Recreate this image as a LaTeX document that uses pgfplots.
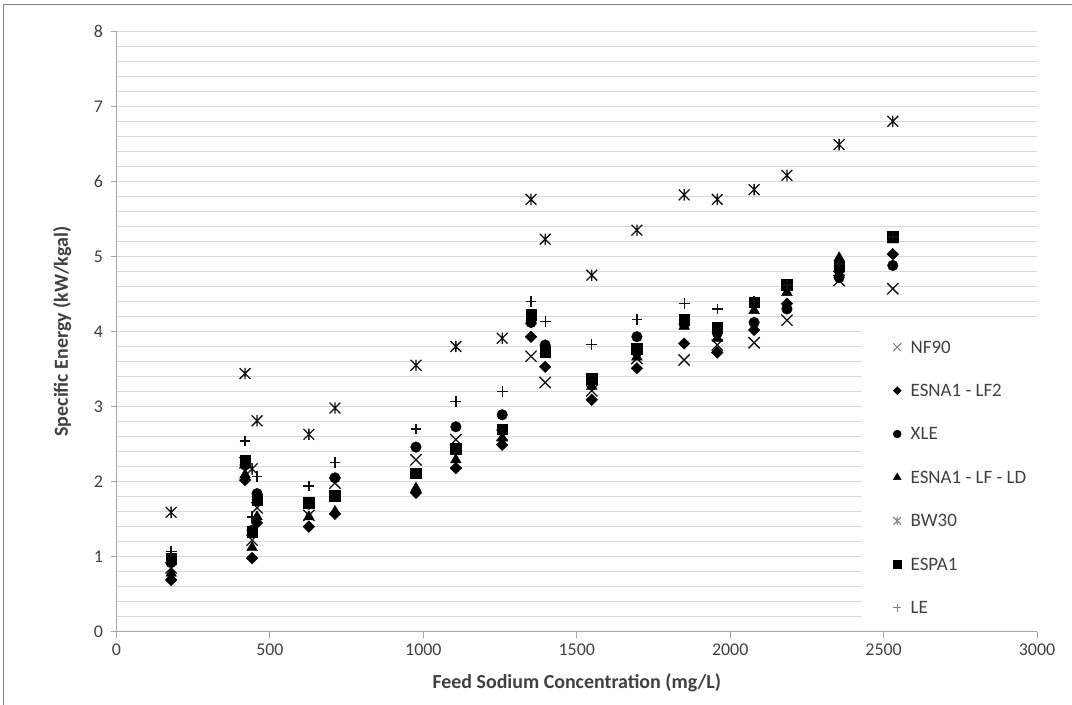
\documentclass[border=0pt]{standalone}
\usepackage{fontspec}
\setmainfont{Carlito}
\usepackage{pgfplots}
\usepackage{pgfplotstable}
\pgfplotsset{compat=1.18}

\definecolor{gridgray}{HTML}{D9D9D9}
\definecolor{axisgray}{HTML}{A6A6A6}
\definecolor{txt}{HTML}{404040}
\definecolor{mk}{HTML}{111111}

\pgfdeclareplotmark{xstar}{%
  \pgfpathmoveto{\pgfqpoint{-\pgfplotmarksize}{-\pgfplotmarksize}}%
  \pgfpathlineto{\pgfqpoint{\pgfplotmarksize}{\pgfplotmarksize}}%
  \pgfpathmoveto{\pgfqpoint{-\pgfplotmarksize}{\pgfplotmarksize}}%
  \pgfpathlineto{\pgfqpoint{\pgfplotmarksize}{-\pgfplotmarksize}}%
  \pgfpathmoveto{\pgfqpoint{0pt}{-1.05\pgfplotmarksize}}%
  \pgfpathlineto{\pgfqpoint{0pt}{1.05\pgfplotmarksize}}%
  \pgfusepathqstroke}
\pgfdeclareplotmark{xcross}{%
  \pgfpathmoveto{\pgfqpoint{-\pgfplotmarksize}{-\pgfplotmarksize}}%
  \pgfpathlineto{\pgfqpoint{\pgfplotmarksize}{\pgfplotmarksize}}%
  \pgfpathmoveto{\pgfqpoint{-\pgfplotmarksize}{\pgfplotmarksize}}%
  \pgfpathlineto{\pgfqpoint{\pgfplotmarksize}{-\pgfplotmarksize}}%
  \pgfusepathqstroke}
\pgfdeclareplotmark{dia}{%
  \pgfpathmoveto{\pgfqpoint{0pt}{\pgfplotmarksize}}%
  \pgfpathlineto{\pgfqpoint{\pgfplotmarksize}{0pt}}%
  \pgfpathlineto{\pgfqpoint{0pt}{-\pgfplotmarksize}}%
  \pgfpathlineto{\pgfqpoint{-\pgfplotmarksize}{0pt}}%
  \pgfpathclose
  \pgfusepathqfillstroke}

\pgfplotstableread{
x    nf   lftwo xle  lfld bw   espa le
178  0.85 0.69  0.92 0.78 1.59 0.97 1.07
419  2.25 2.02  2.22 2.09 3.44 2.28 2.54
442  1.22 0.98  1.35 1.12 2.17 1.33 1.53
458  1.65 1.45  1.84 1.53 2.81 1.76 2.07
627  1.55 1.40  1.70 1.53 2.63 1.72 1.94
712  1.98 1.57  2.05 1.60 2.98 1.81 2.25
976  2.29 1.85  2.46 1.91 3.55 2.11 2.70
1106 2.56 2.18  2.73 2.29 3.80 2.44 3.07
1257 2.62 2.49  2.89 2.58 3.91 2.70 3.20
1351 3.67 3.93  4.12 4.14 5.76 4.22 4.40
1397 3.32 3.53  3.82 3.75 5.23 3.73 4.13
1549 3.21 3.09  3.35 3.27 4.75 3.37 3.83
1696 3.64 3.51  3.93 3.66 5.35 3.77 4.16
1850 3.62 3.84  4.10 4.07 5.82 4.16 4.37
1958 3.82 3.72  3.98 3.91 5.76 4.05 4.30
2078 3.85 4.02  4.12 4.28 5.89 4.39 4.40
2185 4.15 4.37  4.30 4.52 6.08 4.62 4.62
2355 4.68 4.80  4.72 4.98 6.49 4.87 4.90
2530 4.57 5.03  4.88 5.22 6.80 5.26 5.26
}\datatable

\begin{document}
\begin{tikzpicture}[x=1bp,y=1bp]
\useasboundingbox (0,0) rectangle (1072,705);
\draw[color=gray, line width=1bp] (3,0) -- (3,700) -- (1072,700);
\begin{axis}[
  at={(116.5bp,73.3bp)}, anchor=south west,
  scale only axis, width=920.5bp, height=600.4bp,
  xmin=0, xmax=3000, ymin=0, ymax=8,
  xtick={0,500,...,3000}, ytick={0,1,...,8},
  minor y tick num=4,
  axis lines*=left,
  axis line style={draw=axisgray, line width=1bp},
  tick style={draw=axisgray, line width=1bp},
  tick align=outside,
  major tick length=6bp, minor tick length=0bp,
  ymajorgrids, yminorgrids,
  major grid style={draw=gridgray, line width=1.2bp},
  minor grid style={draw=gridgray, line width=1.2bp},
  tick label style={font=\fontsize{18}{20}\selectfont, text=txt},
  /pgf/number format/assume math mode=true,
  /pgf/number format/1000 sep={},
  yticklabel style={xshift=-4bp},
  xticklabel style={yshift=-3bp},
  xlabel={\textbf{Feed Sodium Concentration (mg/L)}},
  ylabel={\textbf{Specific Energy (kW/kgal)}},
  label style={font=\fontsize{20}{22}\selectfont, text=txt},
  x label style={at={(axis description cs:0.5,-0.085)}, anchor=center},
  y label style={at={(axis description cs:-0.059,0.5)}, anchor=center},
  legend style={
    at={(axis description cs:0.8099,0.5028)}, anchor=north west,
    draw=none, fill=white, inner xsep=30.5bp, inner ysep=11bp,
    font=\fontsize{19}{21}\selectfont, text=txt,
    row sep=27.4bp,
    nodes={inner sep=0pt, text height=12bp, text depth=4bp, anchor=base west},
  },
  legend cell align=left,
  /tikz/every odd column/.append style={column sep=9bp},
  legend image code/.code={%
    \path[draw=none, fill=none] (-4.5bp,0bp) rectangle (4.5bp,10bp);
    \draw[#1] plot coordinates {(0bp,5.8bp)};},
]
\addplot[only marks, mark=xcross, mark size=5.6bp, draw=mk, line width=1.3bp,
  legend image post style={mark size=4bp, draw=gray, line width=1bp}]
  table[x=x, y=nf] {\datatable};
\addlegendentry{NF90}
\addplot[only marks, mark=dia, mark size=5.8bp, draw=black, fill=black, line width=0.4bp,
  legend image post style={mark size=4bp}]
  table[x=x, y=lftwo] {\datatable};
\addlegendentry{ESNA1 - LF2}
\addplot[only marks, mark=*, mark size=5.3bp, draw=black, fill=black, line width=0.4bp,
  legend image post style={mark size=4bp}]
  table[x=x, y=xle] {\datatable};
\addlegendentry{XLE}
\addplot[only marks, mark=triangle*, mark size=6.2bp, draw=black, fill=black, line width=0.4bp,
  legend image post style={mark size=4.5bp}]
  table[x=x, y=lfld] {\datatable};
\addlegendentry{ESNA1 - LF - LD}
\addplot[only marks, mark=xstar, mark size=5.4bp, draw=mk, line width=1.3bp,
  legend image post style={mark size=3.8bp, draw=gray, line width=1bp}]
  table[x=x, y=bw] {\datatable};
\addlegendentry{BW30}
\addplot[only marks, mark=square*, mark size=5.3bp, draw=black, fill=black, line width=0.4bp,
  legend image post style={mark size=3.7bp}]
  table[x=x, y=espa] {\datatable};
\addlegendentry{ESPA1}
\addplot[only marks, mark=+, mark size=5.4bp, draw=mk, line width=1.3bp,
  legend image post style={mark size=4bp, draw=gray, line width=1bp}]
  table[x=x, y=le] {\datatable};
\addlegendentry{LE}
\end{axis}
\end{tikzpicture}
\end{document}
